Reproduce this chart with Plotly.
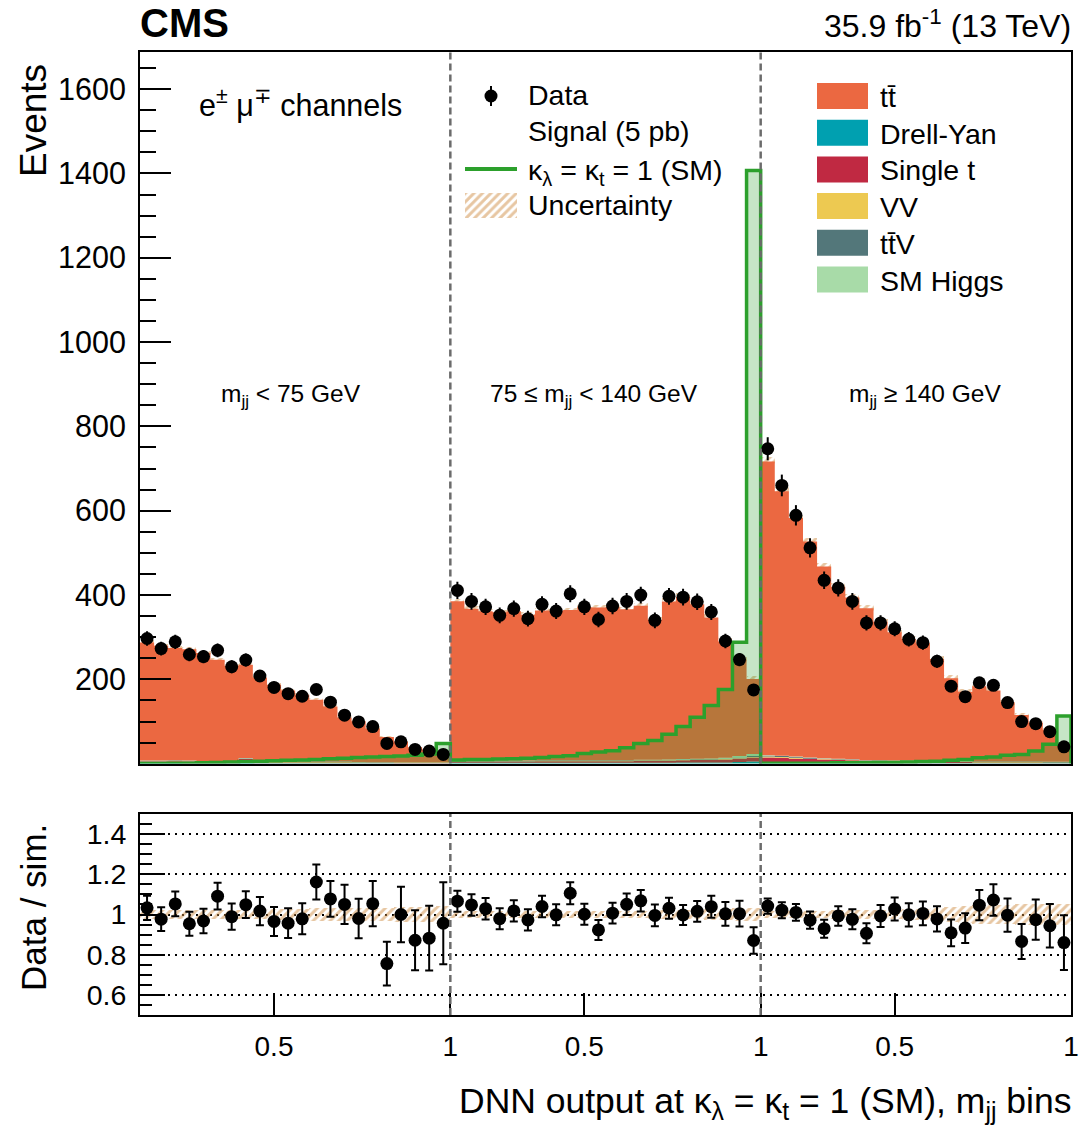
import numpy as np
import plotly.graph_objects as go

FONT = "Liberation Sans, Arial, Helvetica, sans-serif"

# ---------------- data (3 m_jj regions x 22 DNN bins) ----------------
n_per_region = 22
dnn_lo = 0.12
dnn_bw = 0.04

data_r1 = [297, 273, 289, 259, 254, 269, 230, 246, 208, 181, 166, 160, 176, 146, 115, 99, 88, 48, 52, 34, 30, 22]
data_r2 = [411, 385, 372, 352, 368, 344, 378, 362, 403, 372, 342, 374, 385, 400, 340, 397, 395, 384, 360, 291, 247, 175]
data_r3 = [747, 660, 589, 512, 435, 417, 385, 334, 334, 320, 295, 287, 243, 184, 159, 192, 186, 145, 100, 95, 76, 40]

tt_r1 = [280, 272, 266, 264, 256, 240, 226, 221, 198, 182, 168, 158, 146, 130, 104, 97, 80, 60, 49, 36, 31, 20]
tt_r2 = [378, 360, 354, 352, 354, 346, 355, 354, 356, 363, 362, 363, 358, 365, 332, 375, 385, 366, 334, 276, 228, 178]
tt_r3 = [697, 627, 566, 512, 455, 408, 384, 360, 328, 304, 288, 278, 242, 196, 164, 178, 168, 140, 110, 92, 76, 42]

dy_r1 = [2, 2, 2, 1, 1, 1, 1, 6, 1, 1, 1, 1, 1, 1, 1, 1, 1, 1, 0.5, 0.5, 0.5, 0.5]
dy_r2 = [2, 2, 2, 2, 2, 2, 2, 2, 2, 2, 2, 2, 2, 2, 2, 2, 3, 3, 3, 3, 4, 5]
dy_r3 = [3, 3, 2, 2, 2, 2, 2, 1, 1, 1, 1, 1, 1, 1, 1, 1, 1, 1, 1, 1, 1, 1]

st_r1 = [3, 3, 4, 4, 3, 3, 3, 5, 3, 2, 2, 2, 2, 2, 2, 1, 1, 1, 1, 1, 1, 1]
st_r2 = [3, 3, 3, 3, 3, 3, 4, 4, 4, 4, 4, 4, 4, 5, 5, 5, 5, 6, 6, 7, 8, 10]
st_r3 = [12, 11, 10, 9, 8, 7, 6, 5, 5, 4, 4, 4, 3, 3, 3, 2, 2, 2, 2, 2, 1, 1]

vv_r1 = [1, 1, 1, 1, 1, 1, 1, 1, 1, 1, 1, 1, 1, 1, 1, 1, 0.5, 0.5, 0.5, 0.5, 0.5, 0.5]
vv_r2 = [1, 1, 1, 1, 1, 1, 1, 1, 1, 1, 1, 1, 1, 1, 1, 1, 1, 1, 1, 1, 1, 1]
vv_r3 = [2, 2, 2, 1, 1, 1, 1, 1, 1, 1, 1, 1, 1, 1, 1, 1, 1, 1, 1, 1, 1, 1]

ttv_r1 = [1, 1, 1, 1, 1, 1, 1, 1, 1, 1, 1, 1, 1, 1, 1, 0.5, 0.5, 0.5, 0.5, 0.5, 0.5, 0.5]
ttv_r2 = [1, 1, 1, 1, 1, 1, 1, 1, 1, 1, 1, 1, 1, 1, 1, 1, 1, 1, 1, 1, 2, 2]
ttv_r3 = [2, 2, 2, 2, 1, 1, 1, 1, 1, 1, 1, 1, 1, 1, 1, 1, 1, 1, 1, 1, 1, 1]

higgs_r1 = [0.5] * 22
higgs_r2 = [0.5, 0.5, 0.5, 0.5, 0.5, 0.5, 0.5, 0.5, 0.5, 0.5, 0.5, 0.5, 0.5, 0.5, 0.5, 1, 1, 1, 1.5, 2, 3, 5]
higgs_r3 = [1, 1, 1, 1, 1, 1, 0.5, 0.5, 0.5, 0.5, 0.5, 0.5, 0.5, 0.5, 0.5, 0.5, 0.5, 0.5, 0.5, 0.5, 0.5, 0.5]

signal_r1 = [0.5, 0.5, 1, 1, 2, 3, 4, 5, 6, 7, 8, 9, 10, 12, 13, 15, 16, 17, 18, 20, 23, 48]
signal_r2 = [9, 10, 10, 11, 12, 13, 15, 17, 19, 24, 28, 31, 38, 48, 55, 70, 88, 110, 138, 176, 288, 1407]
signal_r3 = [1, 1, 1, 1, 1, 2, 2, 2, 3, 3, 4, 5, 6, 8, 10, 14, 16, 20, 22, 30, 46, 113]

unc_r1 = [0.02, 0.02, 0.02, 0.02, 0.02, 0.02, 0.02, 0.02, 0.02, 0.025, 0.025, 0.025, 0.03, 0.03, 0.03, 0.03, 0.03, 0.03, 0.035, 0.035, 0.035, 0.04]
unc_r2 = [0.015, 0.015, 0.015, 0.015, 0.015, 0.015, 0.015, 0.015, 0.015, 0.015, 0.015, 0.015, 0.015, 0.015, 0.02, 0.02, 0.02, 0.02, 0.025, 0.025, 0.03, 0.03]
unc_r3 = [0.015, 0.015, 0.015, 0.015, 0.015, 0.02, 0.02, 0.02, 0.02, 0.02, 0.025, 0.025, 0.03, 0.035, 0.04, 0.045, 0.045, 0.045, 0.05, 0.05, 0.05, 0.05]

region_labels = ["m<sub>jj</sub> &lt; 75 GeV", "75 \u2264 m<sub>jj</sub> &lt; 140 GeV", "m<sub>jj</sub> \u2265 140 GeV"]
dnn_tick_values = [0.5, 1.0]
dnn_tick_labels = ["0.5", "1"]

# ---------------- colours ----------------
C_TT = "#EB6841"
C_DY = "#00A0B0"
C_ST = "#C02942"
C_VV = "#EDC951"
C_TTV = "#53777A"
C_H = "#A8DBA8"
C_SIG = "#2CA02C"
C_SIGFILL = "rgba(44,160,44,0.27)"
C_UNC = "#CF8E45"
C_SEP = "#6B6B6B"

# ---------------- assemble ----------------
data = np.array(data_r1 + data_r2 + data_r3, float)
tt = np.array(tt_r1 + tt_r2 + tt_r3, float)
dy = np.array(dy_r1 + dy_r2 + dy_r3, float)
st = np.array(st_r1 + st_r2 + st_r3, float)
vv = np.array(vv_r1 + vv_r2 + vv_r3, float)
ttv = np.array(ttv_r1 + ttv_r2 + ttv_r3, float)
higgs = np.array(higgs_r1 + higgs_r2 + higgs_r3, float)
signal = np.array(signal_r1 + signal_r2 + signal_r3, float)
unc = np.array(unc_r1 + unc_r2 + unc_r3, float)

n = len(data)
n_regions = n // n_per_region
centers = np.arange(n) + 0.5
edges = np.arange(n + 1)

stack = [(dy, C_DY), (st, C_ST), (vv, C_VV), (ttv, C_TTV), (higgs, C_H), (tt, C_TT)]
total = dy + st + vv + ttv + higgs + tt

# figure geometry (pixels)
W, H = 1079, 1134
ML, MR, MT, MB = 140, 8, 52, 119
PW, PH = W - ML - MR, H - MT - MB


def px(xp):
    return (xp - ML) / PW


def py(yp):
    return (H - MB - yp) / PH


fig = go.Figure()

# stacked backgrounds as filled step histograms
cum = np.zeros(n)
for i, (vals, col) in enumerate(stack):
    top = cum + vals
    fig.add_trace(go.Scatter(
        x=edges, y=np.append(top, top[-1]), mode="lines",
        line=dict(shape="hv", width=0, color=col),
        fill="tozeroy" if i == 0 else "tonexty", fillcolor=col,
        hoverinfo="skip", showlegend=False, xaxis="x", yaxis="y"))
    cum = top

# signal (filled, semi-transparent, with line)
sx = np.concatenate([[0], edges, [n]])
sy = np.concatenate([[0], signal, [signal[-1]], [0]])
fig.add_trace(go.Scatter(
    x=sx, y=sy, mode="lines", line=dict(shape="hv", width=3.5, color=C_SIG),
    fill="tozeroy", fillcolor=C_SIGFILL, hoverinfo="skip", showlegend=False,
    xaxis="x", yaxis="y"))

# uncertainty band (main)
pattern = dict(shape="/", fgcolor=C_UNC, size=6, solidity=0.5)
fig.add_trace(go.Bar(
    x=centers, y=2 * total * unc, base=total * (1 - unc), width=1,
    marker=dict(color="rgba(0,0,0,0)", line=dict(width=0), pattern=pattern),
    hoverinfo="skip", showlegend=False, xaxis="x", yaxis="y"))

# data (main)
fig.add_trace(go.Scatter(
    x=centers, y=data, mode="markers",
    marker=dict(color="black", size=13),
    error_y=dict(type="data", array=np.sqrt(data), color="black", thickness=2, width=0),
    showlegend=False, xaxis="x", yaxis="y"))

# ratio panel
ratio = data / total
ratio_err = np.sqrt(data) / total
fig.add_trace(go.Bar(
    x=centers, y=2 * unc, base=1 - unc, width=1,
    marker=dict(color="rgba(0,0,0,0)", line=dict(width=0), pattern=pattern),
    hoverinfo="skip", showlegend=False, xaxis="x2", yaxis="y2"))
fig.add_trace(go.Scatter(
    x=centers, y=ratio, mode="markers",
    marker=dict(color="black", size=13),
    error_y=dict(type="data", array=ratio_err, color="black", thickness=2, width=4),
    showlegend=False, xaxis="x2", yaxis="y2"))

# ---------------- legend items (pixel overlay axes x3/y3) ----------------
fig.add_trace(go.Scatter(
    x=[491], y=[96], mode="markers", marker=dict(color="black", size=13),
    error_y=dict(type="data", array=[10], color="black", thickness=2, width=0),
    showlegend=False, xaxis="x3", yaxis="y3"))
fig.add_trace(go.Scatter(
    x=[465, 517], y=[169, 169], mode="lines", line=dict(color=C_SIG, width=4),
    showlegend=False, xaxis="x3", yaxis="y3"))
fig.add_trace(go.Bar(
    x=[491], y=[25], base=[193], width=[52],
    marker=dict(color="rgba(0,0,0,0)", line=dict(width=0), pattern=pattern),
    showlegend=False, xaxis="x3", yaxis="y3"))

shapes = []
legend_right = [("t" + "t\u0304", C_TT), ("Drell-Yan", C_DY), ("Single t", C_ST),
                ("VV", C_VV), ("t" + "t\u0304" + "V", C_TTV), ("SM Higgs", C_H)]
annotations = []
for k, (lab, col) in enumerate(legend_right):
    yc = 96 + k * 36.7
    shapes.append(dict(type="rect", xref="paper", yref="paper", x0=px(817), x1=px(868),
                       y0=py(yc + 13), y1=py(yc - 13), fillcolor=col,
                       line=dict(width=0), layer="above"))
    annotations.append(dict(text=lab, xref="paper", yref="paper", x=px(878), y=py(yc + 1),
                            xanchor="left", yanchor="middle", showarrow=False,
                            font=dict(size=28.5)))

left_leg = [("Data", 95), ("Signal (5 pb)", 131),
            ("\u03ba<sub>\u03bb</sub> = \u03ba<sub>t</sub> = 1 (SM)", 172), ("Uncertainty", 205)]
for lab, yc in left_leg:
    annotations.append(dict(text=lab, xref="paper", yref="paper", x=px(526), y=py(yc),
                            xanchor="left", yanchor="middle", showarrow=False,
                            font=dict(size=28.5)))

# separators between m_jj regions
for r in range(1, n_regions):
    xb = r * n_per_region
    for xr, yr in (("x", "y domain"), ("x2", "y2 domain")):
        shapes.append(dict(type="line", xref=xr, yref=yr, x0=xb, x1=xb, y0=0, y1=1,
                           line=dict(color=C_SEP, width=2.5, dash="7px,4px"), layer="above"))

# region labels
label_x = [291, 594, 925]
for lab, xp in zip(region_labels, label_x):
    annotations.append(dict(text=lab, xref="paper", yref="paper", x=px(xp), y=py(396),
                            xanchor="center", yanchor="middle", showarrow=False,
                            font=dict(size=24.5)))

annotations += [
    dict(text="<b>CMS</b>", xref="paper", yref="paper", x=px(138), y=py(23), xanchor="left",
         yanchor="middle", showarrow=False, font=dict(size=40)),
    dict(text="35.9 fb<sup>-1</sup> (13 TeV)", xref="paper", yref="paper", x=px(1073), y=py(24),
         xanchor="right", yanchor="middle", showarrow=False, font=dict(size=32)),
    dict(text="e<sup>\u00b1</sup> \u03bc<sup>\u2213</sup> channels", xref="paper", yref="paper",
         x=px(197), y=py(104), xanchor="left", yanchor="middle", showarrow=False,
         font=dict(size=30.5)),
    dict(text="Events", xref="paper", yref="paper", x=px(33), y=py(121), textangle=-90,
         xanchor="center", yanchor="middle", showarrow=False, font=dict(size=37)),
    dict(text="Data / sim.", xref="paper", yref="paper", x=px(33), y=py(908), textangle=-90,
         xanchor="center", yanchor="middle", showarrow=False, font=dict(size=35)),
    dict(text="DNN output at \u03ba<sub>\u03bb</sub> = \u03ba<sub>t</sub> = 1 (SM), m<sub>jj</sub> bins",
         xref="paper", yref="paper", x=px(1073), y=py(1103), xanchor="right", yanchor="middle",
         showarrow=False, font=dict(size=35.5)),
]

# x tick positions in bin units from DNN values
xtick_pos, xtick_text = [], []
for r in range(n_regions):
    for v, t in zip(dnn_tick_values, dnn_tick_labels):
        xtick_pos.append(r * n_per_region + (v - dnn_lo) / dnn_bw)
        xtick_text.append(t)

axis_common = dict(showline=True, mirror=True, linecolor="black", linewidth=2,
                   showgrid=False, zeroline=False, automargin=False)

main_bottom = py(763.5)
ratio_top = py(814)

fig.update_layout(
    width=W, height=H, autosize=False,
    margin=dict(l=ML, r=MR, t=MT, b=MB, pad=0, autoexpand=False),
    paper_bgcolor="white", plot_bgcolor="rgba(0,0,0,0)",
    showlegend=False, barmode="overlay", bargap=0,
    font=dict(family=FONT, color="black"),
    xaxis=dict(domain=[0, 1], range=[0, n], anchor="y", showticklabels=False,
               ticks="", **axis_common),
    yaxis=dict(domain=[main_bottom, 1], range=[0.5, 1688], anchor="x",
               tickmode="linear", tick0=0, dtick=200, ticks="inside", ticklen=31,
               tickwidth=2, tickcolor="black",
               minor=dict(ticks="inside", ticklen=16, tickwidth=2, dtick=50,
                          tickcolor="black", showgrid=False),
               tickfont=dict(size=30.5), ticklabelstandoff=6, **axis_common),
    xaxis2=dict(domain=[0, 1], range=[0, n], anchor="y2", tickmode="array",
                tickvals=xtick_pos, ticktext=xtick_text, ticks="inside", ticklen=22,
                tickwidth=2, tickcolor="black", tickfont=dict(size=28),
                ticklabelstandoff=5, **axis_common),
    yaxis2=dict(domain=[0, ratio_top], range=[0.5, 1.5], anchor="x2",
                tickmode="linear", tick0=0.6, dtick=0.2, ticks="inside", ticklen=25,
                tickwidth=2, tickcolor="black",
                minor=dict(ticks="inside", ticklen=12, tickwidth=2, dtick=0.05,
                           tickcolor="black", showgrid=False),
                tickfont=dict(size=28.5), ticklabelstandoff=6,
                showline=True, mirror=True, linecolor="black", linewidth=2,
                zeroline=False, showgrid=True, gridcolor="black", gridwidth=1.5,
                griddash="2px,5px", automargin=False),
    xaxis3=dict(domain=[0, 1], range=[140, 1071], anchor="y3", visible=False,
                automargin=False),
    yaxis3=dict(domain=[0, 1], range=[1015, 52], anchor="x3", visible=False,
                automargin=False),
    shapes=shapes, annotations=annotations,
)

fig.write_html("out.html")
